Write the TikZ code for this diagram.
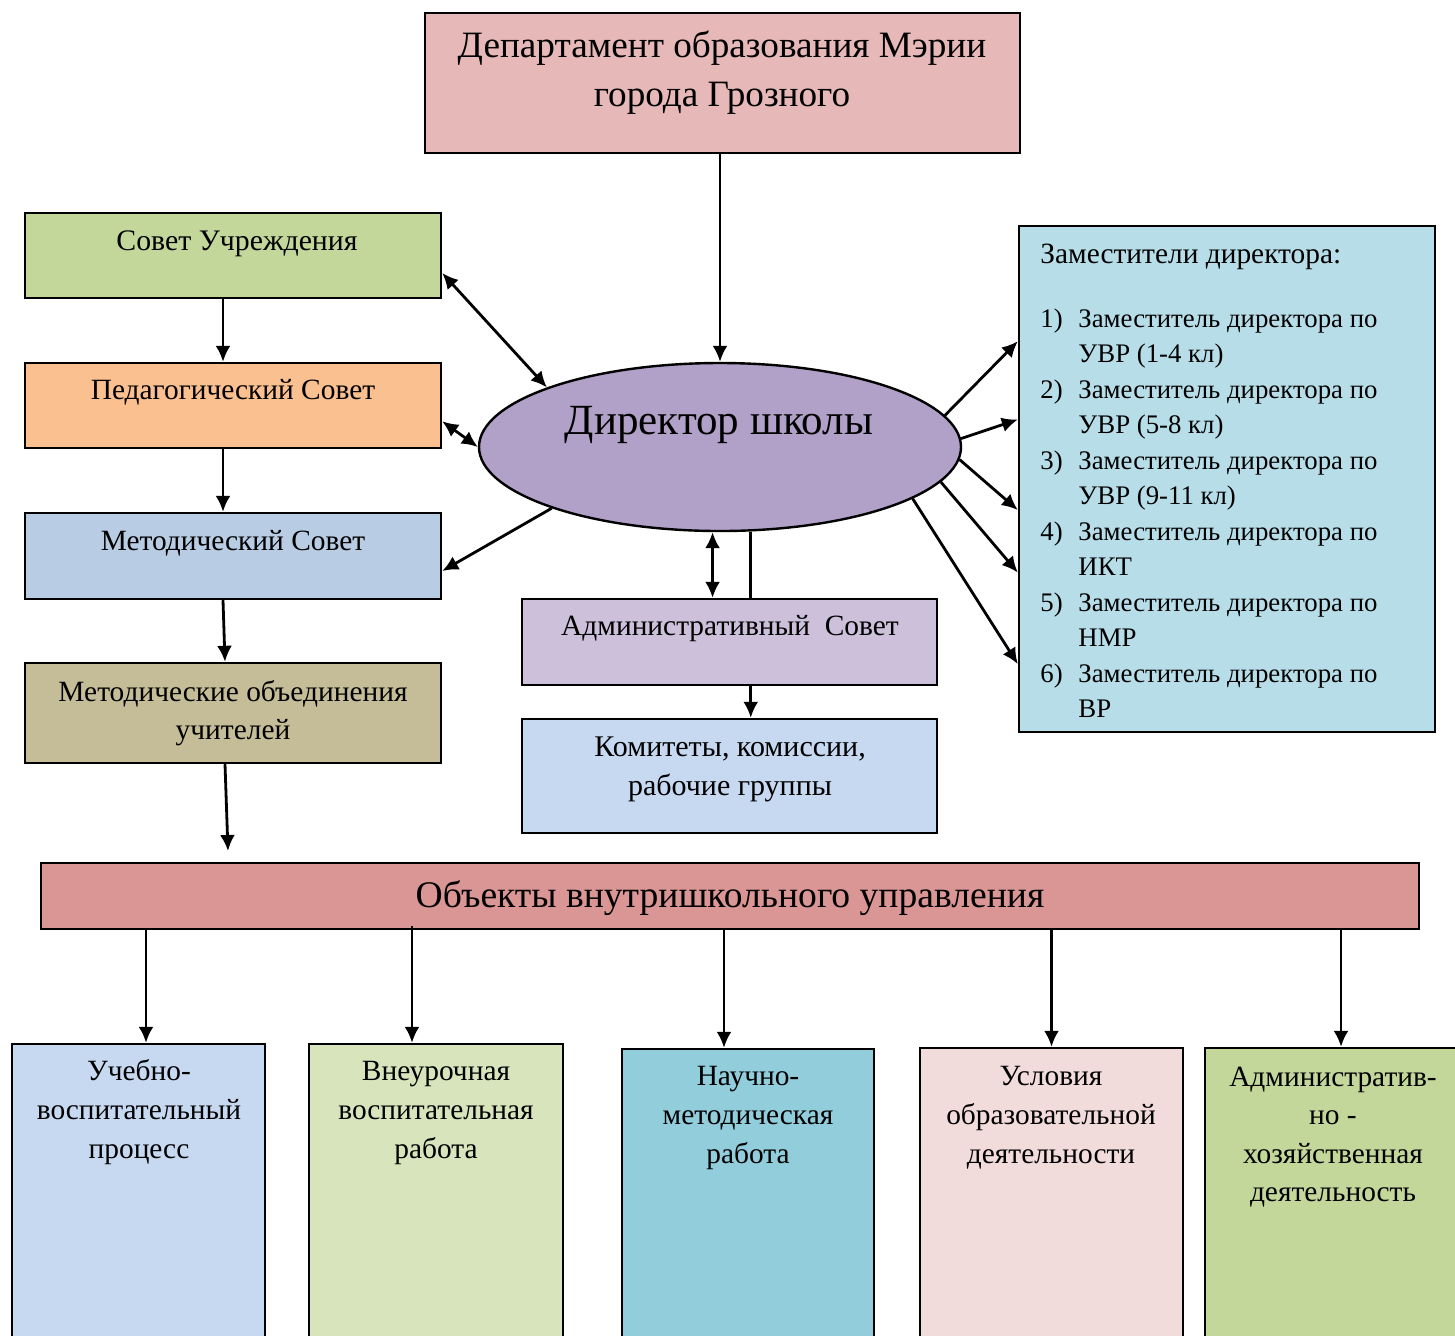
\documentclass[tikz,border=0pt]{standalone}
\usepackage{fontspec}
\setmainfont{Liberation Serif}
\usetikzlibrary{shapes.geometric,arrows.meta,fit,calc}
\definecolor{cdep}{HTML}{E6B8B7}
\definecolor{cdir}{HTML}{B1A0C7}
\definecolor{csu}{HTML}{C4D79B}
\definecolor{cped}{HTML}{FAC090}
\definecolor{cmet}{HTML}{B8CCE4}
\definecolor{cmo}{HTML}{C4BD97}
\definecolor{cadm}{HTML}{CCC0DA}
\definecolor{ckom}{HTML}{C6D9F1}
\definecolor{cdz}{HTML}{B7DEE8}
\definecolor{cbar}{HTML}{DA9694}
\definecolor{cbA}{HTML}{C6D9F1}
\definecolor{cbB}{HTML}{D8E4BC}
\definecolor{cbC}{HTML}{92CDDC}
\definecolor{cbD}{HTML}{F2DCDB}
\definecolor{cbE}{HTML}{C4D79B}
\begin{document}
\begin{tikzpicture}[x=0.5pt,y=-0.5pt,
  box/.style={draw, line width=1.2pt, inner sep=0pt},
  sm/.style={font=\fontsize{14.7}{19.5}\selectfont, align=center, inner sep=0pt, anchor=north},
  big/.style={font=\fontsize{18.6}{24.5}\selectfont, align=center, inner sep=0pt, anchor=north},
  conn/.style={line width=1.4pt},
  arr/.style={conn, -{Latex[length=8pt,width=7.5pt]}},
  darr/.style={conn, {Latex[length=8pt,width=7.5pt]}-{Latex[length=8pt,width=7.5pt]}}]
\useasboundingbox (0,0) rectangle (1455,1335);
\clip (0,0) rectangle (1455,1335);

% boxes
\node[box, fill=cdep, fit={(425,13) (1020,153)}] (dep) {};
\node[box, fill=csu, fit={(25,213) (441,298)}] (su) {};
\node[box, fill=cped, fit={(25,363) (441,448)}] (ped) {};
\node[box, fill=cmet, fit={(25,513) (441,599)}] (met) {};
\node[box, fill=cmo, fit={(25,663) (441,763)}] (mo) {};
\node[box, fill=cadm, fit={(522,599) (937,685)}] (adm) {};
\node[box, fill=ckom, fit={(522,719) (937,833)}] (kom) {};
\node[box, fill=cdz, fit={(1019,226) (1435,732)}] (dz) {};
\node[box, fill=cbar, fit={(41,863) (1419,929)}] (bar) {};
\node[box, fill=cbA, fit={(12,1044) (265,1350)}] (bA) {};
\node[box, fill=cbB, fit={(309,1044) (563,1350)}] (bB) {};
\node[box, fill=cbC, fit={(622,1049) (874,1350)}] (bC) {};
\node[box, fill=cbD, fit={(920,1048) (1183,1350)}] (bD) {};
\node[box, fill=cbE, fit={(1205,1048) (1470,1350)}] (bE) {};
\node[ellipse, draw, line width=1.2pt, fill=cdir, minimum width=241pt, minimum height=84pt, inner sep=0pt] (dir) at (720,447) {};

% texts
\node[big] (tdep) at (722,23) {\strut Департамент образования Мэрии\\города Грозного};
\node[font=\fontsize{21.5}{26}\selectfont, inner sep=0pt, anchor=north] (tdir) at (719,398) {\strut Директор школы};
\node[sm, font=\fontsize{14.9}{19.5}\selectfont] (tsu) at (237,223) {\strut Совет Учреждения};
\node[sm] (tped) at (233,372) {\strut Педагогический Совет};
\node[sm] (tmet) at (233,523) {\strut Методический Совет};
\node[sm, font=\fontsize{14.7}{19}\selectfont] (tmo) at (233,674) {\strut Методические объединения\\учителей};
\node[sm] (tadm) at (730,608) {\strut Административный\ \ Совет};
\node[sm, font=\fontsize{15}{19.5}\selectfont] (tkom) at (730,729) {\strut Комитеты, комиссии,\\рабочие группы};
\node[sm, anchor=north west] (tdzh) at (1040,236) {\strut Заместители директора:};
\node[anchor=north west, inner sep=0pt, font=\fontsize{13.4}{17.75}\selectfont] (tdz) at (1040,302) {%
\begin{tabular}{@{}l@{}l@{}}
\makebox[19pt][l]{1)} & Заместитель директора по\\
 & УВР (1-4 кл)\\
\makebox[19pt][l]{2)} & Заместитель директора по\\
 & УВР (5-8 кл)\\
\makebox[19pt][l]{3)} & Заместитель директора по\\
 & УВР (9-11 кл)\\
\makebox[19pt][l]{4)} & Заместитель директора по\\
 & ИКТ\\
\makebox[19pt][l]{5)} & Заместитель директора по\\
 & НМР\\
\makebox[19pt][l]{6)} & Заместитель директора по\\
 & ВР
\end{tabular}};
\node[big, font=\fontsize{18.8}{24.5}\selectfont] (tbar) at (730,873) {\strut Объекты внутришкольного управления};
\node[sm] (tbA) at (139,1053) {\strut Учебно-\\воспитательный\\процесс};
\node[sm] (tbB) at (436,1053) {\strut Внеурочная\\воспитательная\\работа};
\node[sm] (tbC) at (748,1058) {\strut Научно-\\методическая\\работа};
\node[sm] (tbD) at (1051,1058) {\strut Условия\\образовательной\\деятельности};
\node[sm, font=\fontsize{14.7}{19.2}\selectfont] (tbE) at (1333,1059) {\strut Административ-\\но -\\хозяйственная\\деятельность};

% connectors
\draw[arr] (dep.south -| dir.north) -- (dir.north);
\draw[arr] ([xshift=-5pt]su.south) -- ([xshift=-5pt]ped.north);
\draw[arr] ([xshift=-5pt]ped.south) -- ([xshift=-5pt]met.north);
\draw[arr] ([xshift=-5pt]met.south) -- ([xshift=-4pt]mo.north);
\coordinate (moend) at (228,851);
\draw[arr] ([xshift=-4pt]mo.south) -- (moend);
\draw[darr] ($(su.north east)!0.7!(su.south east)$) -- (dir.161);
\draw[darr] ($(ped.north east)!0.68!(ped.south east)$) -- (dir.west);
\draw[arr] (dir.200) -- ($(met.north east)!0.67!(met.south east)$);
\draw[darr] (dir.265) -- (dir.265 |- adm.north);
\draw[conn] (dir.290) -- (dir.290 |- adm.north);
\draw[arr] (adm.south -| dir.290) -- (kom.north -| dir.290);
\draw[arr] (dir.8) -- ($(dz.north west)!0.229!(dz.south west)$);
\draw[arr] (dir.2) -- ($(dz.north west)!0.383!(dz.south west)$);
\draw[arr] (dir.357) -- ($(dz.north west)!0.561!(dz.south west)$);
\draw[arr] (dir.351) -- ($(dz.north west)!0.684!(dz.south west)$);
\draw[arr] (dir.345) -- ($(dz.north west)!0.864!(dz.south west)$);
\draw[arr] ([xshift=3.75pt]bA.north |- bar.south) -- ([xshift=3.75pt]bA.north);
\draw[arr] ([xshift=-12pt,yshift=2pt]bB.north |- bar.south) -- ([xshift=-12pt]bB.north);
\draw[arr] ([xshift=-12pt]bC.north |- bar.south) -- ([xshift=-12pt]bC.north);
\draw[arr] (bD.north |- bar.south) -- (bD.north);
\draw[arr] ([xshift=1.75pt]bE.north |- bar.south) -- ([xshift=1.75pt]bE.north);
\end{tikzpicture}
\end{document}
